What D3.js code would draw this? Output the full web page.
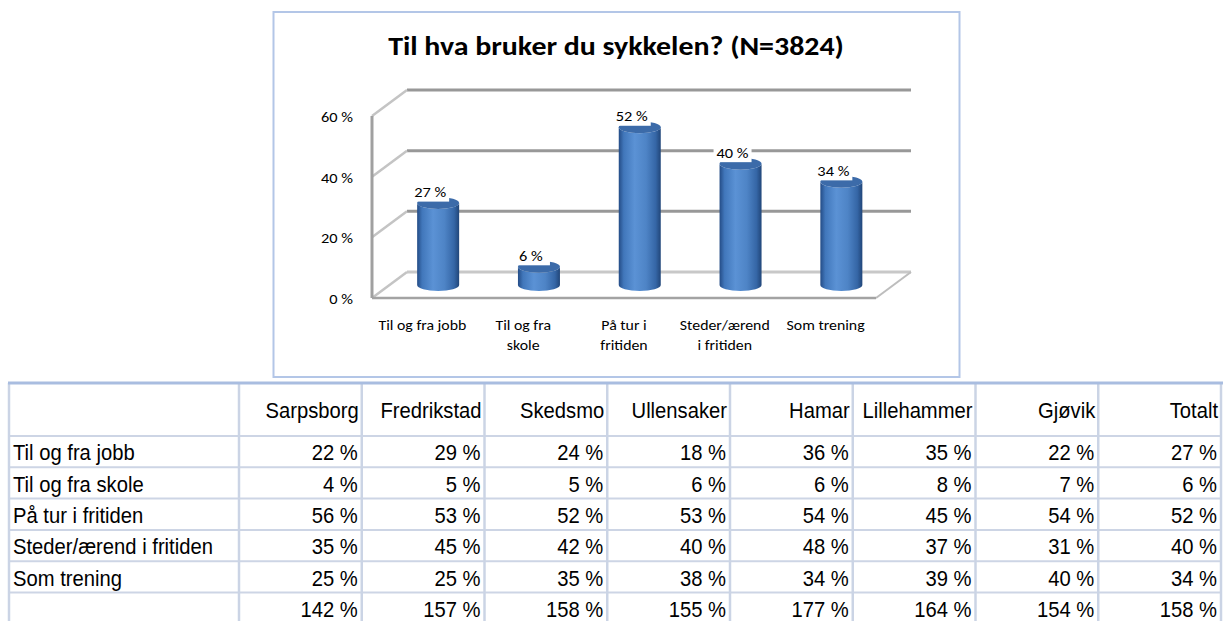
<!DOCTYPE html>
<html>
<head>
<meta charset="utf-8">
<script src="https://cdn.jsdelivr.net/npm/d3@7"></script>
<style>
    body { margin: 0; background: #fff; }
    svg { display: block; }
</style>
</head>
<body>
<svg id="chart" width="1223" height="621"></svg>
<script>
// ========================================
// DATA
// ========================================

const chartTitle = "Til hva bruker du sykkelen? (N=3824)";
const categories = ["Til og fra jobb", "Til og fra skole", "På tur i fritiden", "Steder/ærend i fritiden", "Som trening"];
const categoryLines = [["Til og fra jobb"], ["Til og fra", "skole"], ["På tur i", "fritiden"], ["Steder/ærend", "i fritiden"], ["Som trening"]];
const totalValues = [27, 6, 52, 40, 34];
const yTicks = [0, 20, 40, 60];

const places = ["Sarpsborg", "Fredrikstad", "Skedsmo", "Ullensaker", "Hamar", "Lillehammer", "Gjøvik", "Totalt"];
const jobbValues = [22, 29, 24, 18, 36, 35, 22, 27];
const skoleValues = [4, 5, 5, 6, 6, 8, 7, 6];
const turValues = [56, 53, 52, 53, 54, 45, 54, 52];
const stederValues = [35, 45, 42, 40, 48, 37, 31, 40];
const treningValues = [25, 25, 35, 38, 34, 39, 40, 34];
const sumValues = [142, 157, 158, 155, 177, 164, 154, 158];

const tableRows = [
    { label: categories[0], values: jobbValues },
    { label: categories[1], values: skoleValues },
    { label: categories[2], values: turValues },
    { label: categories[3], values: stederValues },
    { label: categories[4], values: treningValues },
    { label: "", values: sumValues }
];

// ========================================
// FONT HELPERS
// ========================================

const ctx = document.createElement("canvas").getContext("2d");

function textWidth(str, font) {
    ctx.font = font;
    return ctx.measureText(str).width;
}

function pickFont(list) {
    const probe = "abcdefghijklmnopqrstuvwxyz0123456789";
    const base = textWidth(probe, "20px monospace");
    for (let name of list) {
        if (textWidth(probe, `20px "${name}", monospace`) !== base) return name;
    }
    return list[list.length - 1];
}

const chartFont = pickFont(["Carlito", "Open Sans", "Noto Sans", "DejaVu Sans"]);
const tableFont = pickFont(["Liberation Sans Narrow", "Arial Narrow", "Liberation Sans", "Arial"]);

// horizontal squeeze so a reference string gets its measured width
function squeeze(family, size, weight, ref, target) {
    return target / textWidth(ref, `${weight} ${size}px "${family}"`);
}

const sxTitle = squeeze(chartFont, 25.5, "bold", chartTitle, 456);
const sxTick = squeeze(chartFont, 14, "normal", "60 %", 32);
const sxCat = squeeze(chartFont, 14.5, "normal", "Til og fra jobb", 88);
const sxTable = squeeze(tableFont, 21.5, "normal", "Steder/ærend i fritiden", 200);

const pct = v => `${v} %`;

// ========================================
// CHART
// ========================================

const svg = d3.select("#chart");

const defs = svg.append("defs");
const grad = defs.append("linearGradient")
    .attr("id", "cyl")
    .attr("x1", "0%").attr("x2", "100%")
    .attr("y1", "0%").attr("y2", "0%");
[[0, "#244c86"], [0.12, "#4177bb"], [0.38, "#5b92d5"], [0.65, "#4e84c6"], [0.88, "#3566a6"], [1, "#214679"]]
    .forEach(([o, c]) => grad.append("stop").attr("offset", o).attr("stop-color", c));

// chart frame
svg.append("rect")
    .attr("x", 273.5).attr("y", 12)
    .attr("width", 686).attr("height", 365)
    .attr("fill", "#fff")
    .attr("stroke", "#b3c6e7")
    .attr("stroke-width", 2);

svg.append("text")
    .attr("transform", `translate(616,55) scale(${sxTitle},1)`)
    .attr("text-anchor", "middle")
    .attr("font-family", chartFont)
    .attr("font-weight", "bold")
    .attr("font-size", 25.5)
    .attr("fill", "#000")
    .text(chartTitle);

const depthX = 35, depthY = -26;

const x = d3.scaleBand()
    .domain(categories)
    .range([372, 876]);

const y = d3.scaleLinear()
    .domain([0, 60])
    .range([298, 116]);

const [x0, x1] = x.range();

// back wall gridlines
svg.append("g").selectAll("line")
    .data(yTicks)
    .join("line")
    .attr("x1", x0 + depthX).attr("x2", x1 + depthX)
    .attr("y1", d => y(d) + depthY).attr("y2", d => y(d) + depthY)
    .attr("stroke", d => d === 0 ? "#c8c8c8" : "#989898")
    .attr("stroke-width", 3);

// side wall diagonals
svg.append("g").selectAll("line")
    .data(yTicks)
    .join("line")
    .attr("x1", x0).attr("y1", d => y(d))
    .attr("x2", x0 + depthX).attr("y2", d => y(d) + depthY)
    .attr("stroke", "#c4c4c4")
    .attr("stroke-width", 2.5);

// floor
svg.append("line")
    .attr("x1", x1).attr("y1", y(0))
    .attr("x2", x1 + depthX).attr("y2", y(0) + depthY)
    .attr("stroke", "#bdbdbd").attr("stroke-width", 2);

svg.append("line")
    .attr("x1", x0).attr("x2", x1)
    .attr("y1", y(0)).attr("y2", y(0))
    .attr("stroke", "#a3a3a3").attr("stroke-width", 2.5);

svg.append("line")
    .attr("x1", x0).attr("x2", x0)
    .attr("y1", y(60)).attr("y2", y(0))
    .attr("stroke", "#a0a0a0").attr("stroke-width", 3);

// y tick labels
svg.append("g").selectAll("text")
    .data(yTicks)
    .join("text")
    .attr("transform", d => `translate(353,${y(d) + 1}) scale(${sxTick},1)`)
    .attr("text-anchor", "end")
    .attr("dominant-baseline", "central")
    .attr("font-family", chartFont)
    .attr("font-size", 14)
    .text(d => pct(d));

// cylinders
const rx = 21, ry = 6;
const barData = categories.map((c, i) => ({
    cat: c,
    value: totalValues[i],
    cx: x(c) + x.bandwidth() / 2 + depthX * 0.45,
    base: y(0) + depthY / 2,
    top: y(totalValues[i]) + depthY / 2
}));

const bars = svg.append("g").selectAll("g")
    .data(barData)
    .join("g");

bars.append("path")
    .attr("fill", "url(#cyl)")
    .attr("d", d => `M${d.cx - rx},${d.top} L${d.cx - rx},${d.base}
        A${rx},${ry} 0 0 0 ${d.cx + rx},${d.base}
        L${d.cx + rx},${d.top}
        A${rx},${ry} 0 0 1 ${d.cx - rx},${d.top} Z`);

bars.append("ellipse")
    .attr("cx", d => d.cx).attr("cy", d => d.top)
    .attr("rx", rx).attr("ry", ry)
    .attr("fill", "#3c6ba9");

// value labels with white box
const labels = svg.append("g").selectAll("g")
    .data(barData)
    .join("g")
    .attr("transform", d => `translate(${d.cx - 8},${d.top - 11})`);

labels.append("rect")
    .attr("x", -19).attr("y", -9.5)
    .attr("width", 38).attr("height", 19)
    .attr("fill", "#fff");

labels.append("text")
    .attr("transform", `scale(${sxTick},1)`)
    .attr("text-anchor", "middle")
    .attr("dominant-baseline", "central")
    .attr("font-family", chartFont)
    .attr("font-size", 14)
    .text(d => pct(d.value));

// category labels
const catG = svg.append("g").selectAll("g")
    .data(categories)
    .join("g")
    .attr("transform", d => `translate(${x(d) + x.bandwidth() / 2},325)`);

catG.selectAll("text")
    .data((d, i) => categoryLines[i])
    .join("text")
    .attr("transform", (d, i) => `translate(0,${i * 20}) scale(${sxCat},1)`)
    .attr("text-anchor", "middle")
    .attr("dominant-baseline", "central")
    .attr("font-family", chartFont)
    .attr("font-size", 14.5)
    .text(d => d);

// ========================================
// TABLE
// ========================================

const tableLeft = 9, firstColRight = 239, tableRight = 1221;
const headerTop = 383, headerBottom = 436, rowH = 31.3;

const col = d3.scaleBand()
    .domain(places)
    .range([firstColRight, tableRight]);

const row = d3.scaleBand()
    .domain(d3.range(tableRows.length))
    .range([headerBottom, headerBottom + rowH * tableRows.length]);

const table = svg.append("g")
    .attr("font-family", tableFont)
    .attr("font-size", 21.5)
    .attr("fill", "#000");

// horizontal lines
table.append("g").selectAll("line")
    .data(d3.range(tableRows.length + 1))
    .join("line")
    .attr("x1", tableLeft).attr("x2", tableRight)
    .attr("y1", d => headerBottom + d * rowH).attr("y2", d => headerBottom + d * rowH)
    .attr("stroke", "#cdd5e5").attr("stroke-width", 2);

// vertical lines
const colEdges = [tableLeft, firstColRight].concat(places.map(p => col(p) + col.bandwidth()));
table.append("g").selectAll("line")
    .data(colEdges)
    .join("line")
    .attr("x1", d => d).attr("x2", d => d)
    .attr("y1", headerTop).attr("y2", 621)
    .attr("stroke", "#cbd4e5").attr("stroke-width", 2.5);

table.append("line")
    .attr("x1", tableLeft - 1).attr("x2", tableRight + 2)
    .attr("y1", headerTop).attr("y2", headerTop)
    .attr("stroke", "#a9bde0").attr("stroke-width", 3);

// header
table.append("g").selectAll("text")
    .data(places)
    .join("text")
    .attr("transform", d => `translate(${col(d) + col.bandwidth() - 3},${(headerTop + headerBottom) / 2 + 1}) scale(${sxTable},1)`)
    .attr("text-anchor", "end")
    .attr("dominant-baseline", "central")
    .text(d => d);

// body rows
const rowG = table.append("g").selectAll("g")
    .data(tableRows)
    .join("g")
    .attr("transform", (d, i) => `translate(0,${row(i) + rowH / 2 + 1})`);

rowG.append("text")
    .attr("transform", `translate(13,0) scale(${sxTable},1)`)
    .attr("dominant-baseline", "central")
    .text(d => d.label);

rowG.selectAll(".val")
    .data(d => d.values)
    .join("text")
    .attr("class", "val")
    .attr("transform", (d, i) => `translate(${col(places[i]) + col.bandwidth() - 4},0) scale(${sxTable},1)`)
    .attr("text-anchor", "end")
    .attr("dominant-baseline", "central")
    .text(d => pct(d));
</script>
</body>
</html>
